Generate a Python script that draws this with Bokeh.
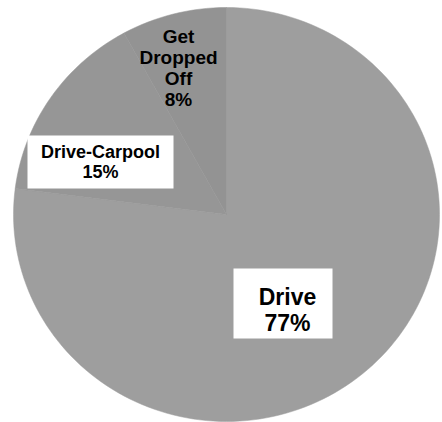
import math
from bokeh.plotting import figure
from bokeh.models import ColumnDataSource, Range1d
from bokeh.core.properties import value
from bokeh.embed import file_html
from bokeh.resources import INLINE

# ---- data ----
categories = ["Drive", "Drive-Carpool", "Get Dropped Off"]
shares = [77, 15, 8]
label_names = ["Drive", "Drive-Carpool", "Get\nDropped\nOff"]
colors = ["#9e9e9e", "#969696", "#939393"]

W, H = 442, 422
p = figure(width=W, height=H, output_backend="svg", toolbar_location=None,
           x_range=Range1d(0, W), y_range=Range1d(0, H), min_border=0)
p.axis.visible = False
p.grid.visible = False
p.outline_line_color = None
p.background_fill_color = "white"
p.border_fill_color = "white"

def py(y):
    return H - y

# pie layout (clockwise from 12 o'clock), slightly elliptical as in the scan
cx, cy, rx, ry = 226, py(214), 213, 207
total = sum(shares)
xs, ys = [], []
a = math.pi / 2
for s in shares:
    b = a - 2 * math.pi * s / total
    n = max(8, int(200 * s / total))
    px_, py_ = [cx], [cy]
    for i in range(n + 1):
        t = a + (b - a) * i / n
        px_.append(cx + rx * math.cos(t))
        py_.append(cy + ry * math.sin(t))
    xs.append(px_)
    ys.append(py_)
    a = b
src = ColumnDataSource(dict(cat=categories, share=shares, xs=xs, ys=ys, color=colors))
p.patches(xs="xs", ys="ys", fill_color="color", line_color="color", line_width=0.5, source=src)

# boxes for Drive and Drive-Carpool
p.quad(left=[233, 27], right=[332, 173],
       top=[py(268), py(135)], bottom=[py(338), py(188)],
       fill_color="white", line_color=None)

texts = [f"{n}\n{v}%" for n, v in zip(label_names, shares)]
pos_x = [287, 100, 178]
pos_y = [py(309), py(161), py(67)]
sizes = ["23px", "18px", "19px"]
heights = [1.0, 1.0, 1.0]
for t, x, y, s, lh in zip(texts, pos_x, pos_y, sizes, heights):
    p.text(x=[x], y=[y], text=[t], text_font=value("Liberation Sans"),
           text_font_style="bold", text_font_size=s, text_align="center",
           text_baseline="middle", text_color="black", text_line_height=lh)

open("out.html", "w").write(file_html(p, INLINE))
